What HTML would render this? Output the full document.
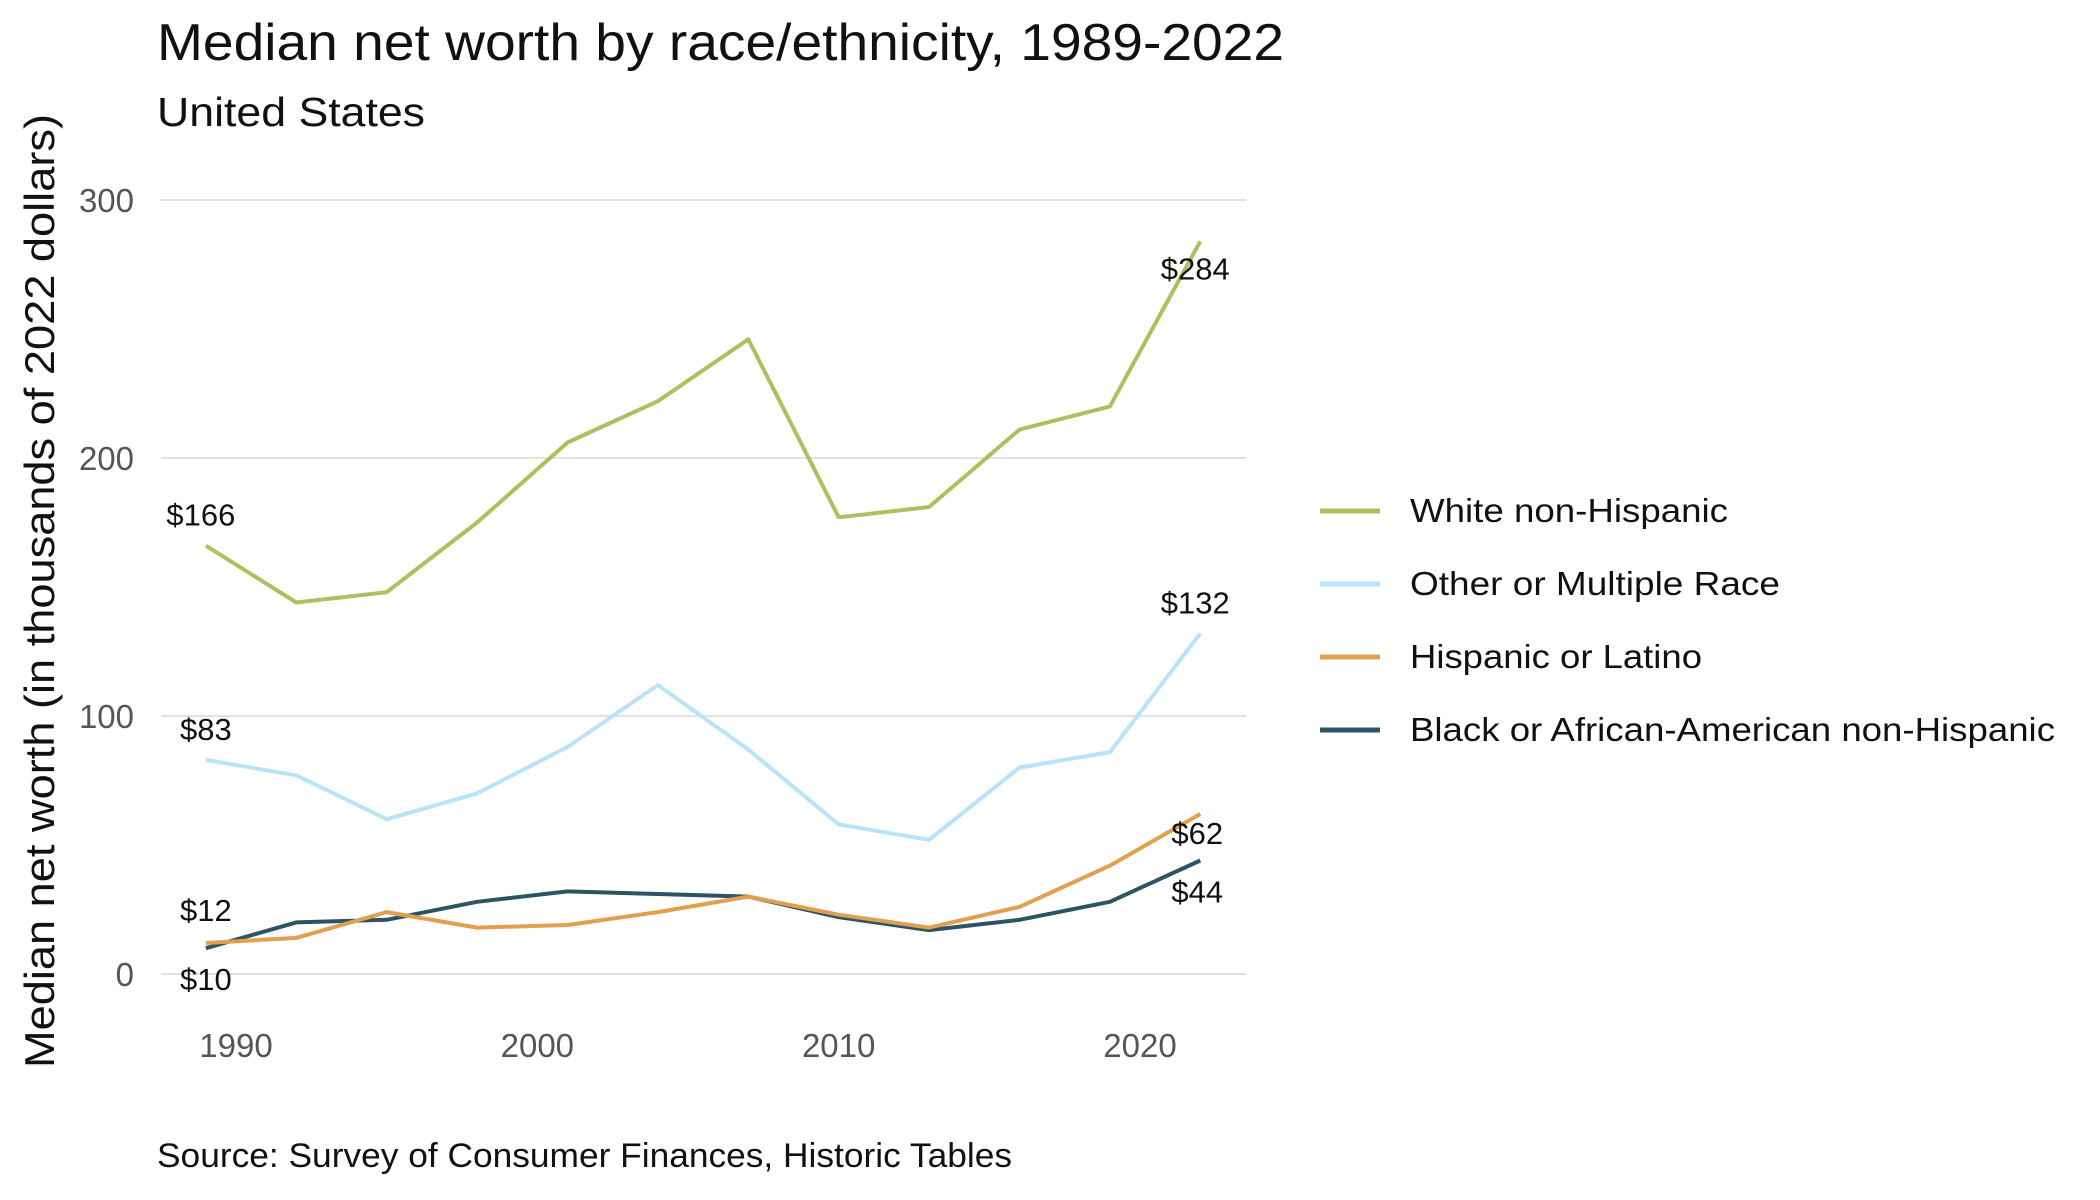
<!DOCTYPE html>
<html><head><meta charset="utf-8"><style>
html,body{margin:0;padding:0;background:#fff;}
svg{display:block;font-family:"Liberation Sans",sans-serif;}
</style></head><body>
<svg id="chart" width="2100" height="1200" viewBox="0 0 2100 1200">
<text x="157" y="60" font-size="52" fill="#111" textLength="1127" lengthAdjust="spacingAndGlyphs">Median net worth by race/ethnicity, 1989-2022</text>
<text x="157" y="126" font-size="41" fill="#111" textLength="268" lengthAdjust="spacingAndGlyphs">United States</text>
<text transform="translate(54,591) rotate(-90)" text-anchor="middle" font-size="42" fill="#111" textLength="954" lengthAdjust="spacingAndGlyphs">Median net worth (in thousands of 2022 dollars)</text>
<text x="157" y="1167" font-size="34" fill="#111" textLength="855" lengthAdjust="spacingAndGlyphs">Source: Survey of Consumer Finances, Historic Tables</text>
<g id="grid"></g><g id="lines"></g><g id="labels"></g><g id="legend"></g>
</svg>
<script>
const years=[1989,1992,1995,1998,2001,2004,2007,2010,2013,2016,2019,2022];
const white=[166,144,148,175,206,222,246,177,181,211,220,284];
const other=[83,77,60,70,88,112,87,58,52,80,86,132];
const hispanic=[12,14,24,18,19,24,30,23,18,26,42,62];
const black=[10,20,21,28,32,31,30,22,17,21,28,44];
const yTicks=[0,100,200,300];
const xTicks=[1990,2000,2010,2020];
const seriesNames=["White non-Hispanic","Other or Multiple Race","Hispanic or Latino","Black or African-American non-Hispanic"];
const NS="http://www.w3.org/2000/svg";
const L=161,R=1246,Y0=974,Y300=200;
const x=v=>236+(v-1990)*(1140-236)/30;
const y=v=>Y0+(Y300-Y0)*v/300;
function mk(tag,attrs,parent,txt){const e=document.createElementNS(NS,tag);for(const k in attrs)e.setAttribute(k,attrs[k]);if(txt!==undefined)e.textContent=txt;parent.appendChild(e);return e;}
const grid=document.getElementById('grid');
yTicks.forEach(t=>{
 const l=mk('line',{x1:L,x2:R,y1:y(t),y2:y(t),stroke:'#e3e3e3','stroke-width':2},grid);
 
 
 const tx=mk('text',{x:134,y:y(t)+12,'text-anchor':'end','font-size':33,fill:'#555'},grid,String(t));
 
 
});
xTicks.forEach(t=>{
 const tx=mk('text',{x:x(t),y:1057,'text-anchor':'middle','font-size':33,fill:'#555'},grid,String(t));
 
 
});
const series=[white,other,hispanic,black];
const colors=['#adc05d','#b7e4f9','#e0a04f','#2c5464'];
const slugs=['white','other','hispanic','black'];
const lines=document.getElementById('lines');
[3,2,1,0].forEach(i=>{
 const d=series[i].map((v,j)=>(j?'L':'M')+x(years[j]).toFixed(1)+','+y(v).toFixed(1)).join(' ');
 const p=mk('path',{d:d,fill:'none',stroke:colors[i],'stroke-width':4,'stroke-linejoin':'round'},lines);
 
 
});
lines.appendChild(lines.children[1]);
const labels=document.getElementById('labels');
const n=years.length-1;
const lab=[[white,0,-5,-20],[white,n,-5,38],[other,0,0,-20],[other,n,-5,-20],[hispanic,0,0,-22],[hispanic,n,-3,30],[black,0,0,42],[black,n,-3,42]];
lab.forEach((a,k)=>{
 const s=a[0],i=a[1];
 const t=mk('text',{x:x(years[i])+a[2],y:y(s[i])+a[3],'text-anchor':'middle','font-size':31,fill:'#111'},labels,'$'+s[i]);
 
 
});
const lg=document.getElementById('legend');
const lgW=[318,370,292,645];
seriesNames.forEach((nm,i)=>{
 const yy=511+i*73;
 const l=mk('line',{x1:1320,x2:1380,y1:yy,y2:yy,stroke:colors[i],'stroke-width':5},lg);
 
 
 const t=mk('text',{x:1410,y:yy+11,'font-size':33,fill:'#111',textLength:lgW[i],lengthAdjust:'spacingAndGlyphs'},lg,nm);
 
 
});
</script>
</body></html>
